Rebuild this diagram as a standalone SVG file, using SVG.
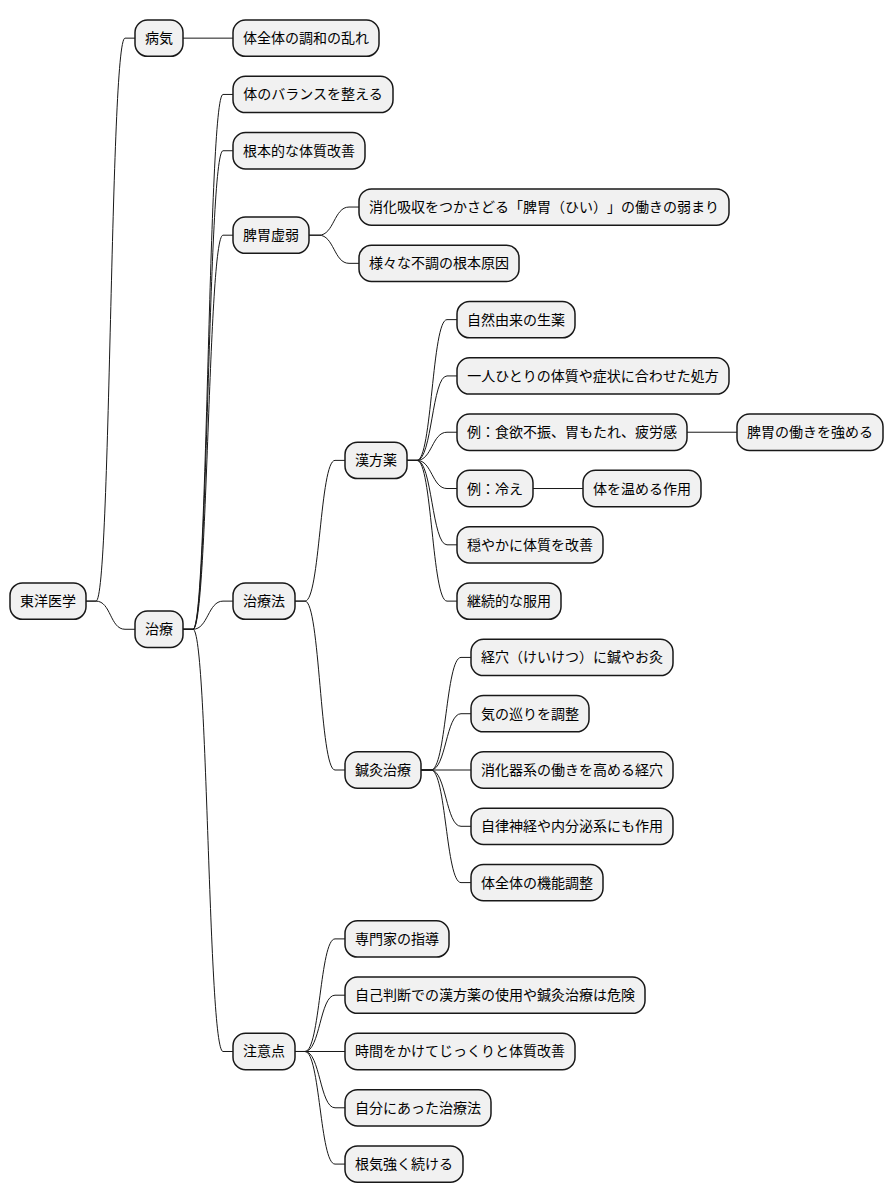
<svg xmlns="http://www.w3.org/2000/svg" width="894" height="1203" viewBox="0 0 894 1203">
<style>
.n rect{fill:#F1F1F1;stroke:#181818;stroke-width:1.5}
.n text{font-family:"Noto Sans CJK JP","Noto Sans",sans-serif;font-size:14px;fill:#000;text-anchor:middle;text-spacing-trim:space-all}
#edges path{fill:none;stroke:#181818;stroke-width:1}
</style>
<rect width="894" height="1203" fill="#FFFFFF"/>
<g id="edges">
<path d="M86 601.12 L96 601.12 C111 601.12 110 38.15 125 38.15 L135 38.15"/>
<path d="M86 601.12 L96 601.12 C111 601.12 110 629.27 125 629.27 L135 629.27"/>
<path d="M183 38.15 L233 38.15"/>
<path d="M183 629.27 L193 629.27 C208 629.27 208 94.45 223 94.45 L233 94.45"/>
<path d="M183 629.27 L193 629.27 C208 629.27 208 150.74 223 150.74 L233 150.74"/>
<path d="M183 629.27 L193 629.27 C208 629.27 208 235.19 223 235.19 L233 235.19"/>
<path d="M183 629.27 L193 629.27 C208 629.27 208 601.12 223 601.12 L233 601.12"/>
<path d="M183 629.27 L193 629.27 C208 629.27 208 1051.49 223 1051.49 L233 1051.49"/>
<path d="M309 235.19 L319 235.19 C334 235.19 334 207.04 349 207.04 L359 207.04"/>
<path d="M309 235.19 L319 235.19 C334 235.19 334 263.34 349 263.34 L359 263.34"/>
<path d="M295 601.12 L305 601.12 C320 601.12 320 460.38 335 460.38 L345 460.38"/>
<path d="M295 601.12 L305 601.12 C320 601.12 320 770.01 335 770.01 L345 770.01"/>
<path d="M407 460.38 L417 460.38 C432 460.38 432 319.63 447 319.63 L457 319.63"/>
<path d="M407 460.38 L417 460.38 C432 460.38 432 375.93 447 375.93 L457 375.93"/>
<path d="M407 460.38 L417 460.38 C432 460.38 432 432.23 447 432.23 L457 432.23"/>
<path d="M407 460.38 L417 460.38 C432 460.38 432 488.52 447 488.52 L457 488.52"/>
<path d="M407 460.38 L417 460.38 C432 460.38 432 544.82 447 544.82 L457 544.82"/>
<path d="M407 460.38 L417 460.38 C432 460.38 432 601.12 447 601.12 L457 601.12"/>
<path d="M687 432.23 L737 432.23"/>
<path d="M533 488.52 L583 488.52"/>
<path d="M421 770.01 L431 770.01 C446 770.01 446 657.42 461 657.42 L471 657.42"/>
<path d="M421 770.01 L431 770.01 C446 770.01 446 713.71 461 713.71 L471 713.71"/>
<path d="M421 770.01 L471 770.01"/>
<path d="M421 770.01 L431 770.01 C446 770.01 446 826.31 461 826.31 L471 826.31"/>
<path d="M421 770.01 L431 770.01 C446 770.01 446 882.60 461 882.60 L471 882.60"/>
<path d="M295 1051.49 L305 1051.49 C320 1051.49 320 938.90 335 938.90 L345 938.90"/>
<path d="M295 1051.49 L305 1051.49 C320 1051.49 320 995.20 335 995.20 L345 995.20"/>
<path d="M295 1051.49 L345 1051.49"/>
<path d="M295 1051.49 L305 1051.49 C320 1051.49 320 1107.79 335 1107.79 L345 1107.79"/>
<path d="M295 1051.49 L305 1051.49 C320 1051.49 320 1164.09 335 1164.09 L345 1164.09"/>
</g>
<g id="n-root" class="n"><rect x="10" y="582.97" width="76" height="36.3" rx="12.5"/><text x="48" y="606.12">東洋医学</text></g>
<g id="n-byoki" class="n"><rect x="135" y="20" width="48" height="36.3" rx="12.5"/><text x="159" y="43.15">病気</text></g>
<g id="n-chiryo" class="n"><rect x="135" y="611.12" width="48" height="36.3" rx="12.5"/><text x="159" y="634.27">治療</text></g>
<g id="n-chowa" class="n"><rect x="233" y="20" width="146" height="36.3" rx="12.5"/><text x="306" y="43.15">体全体の調和の乱れ</text></g>
<g id="n-balance" class="n"><rect x="233" y="76.3" width="160" height="36.3" rx="12.5"/><text x="313" y="99.45">体のバランスを整える</text></g>
<g id="n-konpon" class="n"><rect x="233" y="132.59" width="132" height="36.3" rx="12.5"/><text x="299" y="155.74">根本的な体質改善</text></g>
<g id="n-hii" class="n"><rect x="233" y="217.04" width="76" height="36.3" rx="12.5"/><text x="271" y="240.19">脾胃虚弱</text></g>
<g id="n-shoka" class="n"><rect x="359" y="188.89" width="370" height="36.3" rx="12.5"/><text x="544" y="212.04">消化吸収をつかさどる「脾胃（ひい）」の働きの弱まり</text></g>
<g id="n-samazama" class="n"><rect x="359" y="245.19" width="160" height="36.3" rx="12.5"/><text x="439" y="268.34">様々な不調の根本原因</text></g>
<g id="n-chiryoho" class="n"><rect x="233" y="582.97" width="62" height="36.3" rx="12.5"/><text x="264" y="606.12">治療法</text></g>
<g id="n-kampo" class="n"><rect x="345" y="442.23" width="62" height="36.3" rx="12.5"/><text x="376" y="465.38">漢方薬</text></g>
<g id="n-shizen" class="n"><rect x="457" y="301.48" width="118" height="36.3" rx="12.5"/><text x="516" y="324.63">自然由来の生薬</text></g>
<g id="n-hitori" class="n"><rect x="457" y="357.78" width="272" height="36.3" rx="12.5"/><text x="593" y="380.93">一人ひとりの体質や症状に合わせた処方</text></g>
<g id="n-rei1" class="n"><rect x="457" y="414.08" width="230" height="36.3" rx="12.5"/><text x="572" y="437.23">例：食欲不振、胃もたれ、疲労感</text></g>
<g id="n-hiihataraki" class="n"><rect x="737" y="414.08" width="146" height="36.3" rx="12.5"/><text x="810" y="437.23">脾胃の働きを強める</text></g>
<g id="n-rei2" class="n"><rect x="457" y="470.37" width="76" height="36.3" rx="12.5"/><text x="495" y="493.52">例：冷え</text></g>
<g id="n-atatame" class="n"><rect x="583" y="470.37" width="118" height="36.3" rx="12.5"/><text x="642" y="493.52">体を温める作用</text></g>
<g id="n-odayaka" class="n"><rect x="457" y="526.67" width="146" height="36.3" rx="12.5"/><text x="530" y="549.82">穏やかに体質を改善</text></g>
<g id="n-keizoku" class="n"><rect x="457" y="582.97" width="104" height="36.3" rx="12.5"/><text x="509" y="606.12">継続的な服用</text></g>
<g id="n-shinkyu" class="n"><rect x="345" y="751.86" width="76" height="36.3" rx="12.5"/><text x="383" y="775.01">鍼灸治療</text></g>
<g id="n-keiketsu" class="n"><rect x="471" y="639.27" width="202" height="36.3" rx="12.5"/><text x="572" y="662.42">経穴（けいけつ）に鍼やお灸</text></g>
<g id="n-ki" class="n"><rect x="471" y="695.56" width="118" height="36.3" rx="12.5"/><text x="530" y="718.71">気の巡りを調整</text></g>
<g id="n-shokaki" class="n"><rect x="471" y="751.86" width="202" height="36.3" rx="12.5"/><text x="572" y="775.01">消化器系の働きを高める経穴</text></g>
<g id="n-jiritsu" class="n"><rect x="471" y="808.16" width="202" height="36.3" rx="12.5"/><text x="572" y="831.31">自律神経や内分泌系にも作用</text></g>
<g id="n-kino" class="n"><rect x="471" y="864.45" width="132" height="36.3" rx="12.5"/><text x="537" y="887.60">体全体の機能調整</text></g>
<g id="n-chui" class="n"><rect x="233" y="1033.34" width="62" height="36.3" rx="12.5"/><text x="264" y="1056.49">注意点</text></g>
<g id="n-senmonka" class="n"><rect x="345" y="920.75" width="104" height="36.3" rx="12.5"/><text x="397" y="943.90">専門家の指導</text></g>
<g id="n-jiko" class="n"><rect x="345" y="977.05" width="300" height="36.3" rx="12.5"/><text x="495" y="1000.20">自己判断での漢方薬の使用や鍼灸治療は危険</text></g>
<g id="n-jikan" class="n"><rect x="345" y="1033.34" width="230" height="36.3" rx="12.5"/><text x="460" y="1056.49">時間をかけてじっくりと体質改善</text></g>
<g id="n-jibun" class="n"><rect x="345" y="1089.64" width="146" height="36.3" rx="12.5"/><text x="418" y="1112.79">自分にあった治療法</text></g>
<g id="n-konki" class="n"><rect x="345" y="1145.94" width="118" height="36.3" rx="12.5"/><text x="404" y="1169.09">根気強く続ける</text></g>
</svg>
